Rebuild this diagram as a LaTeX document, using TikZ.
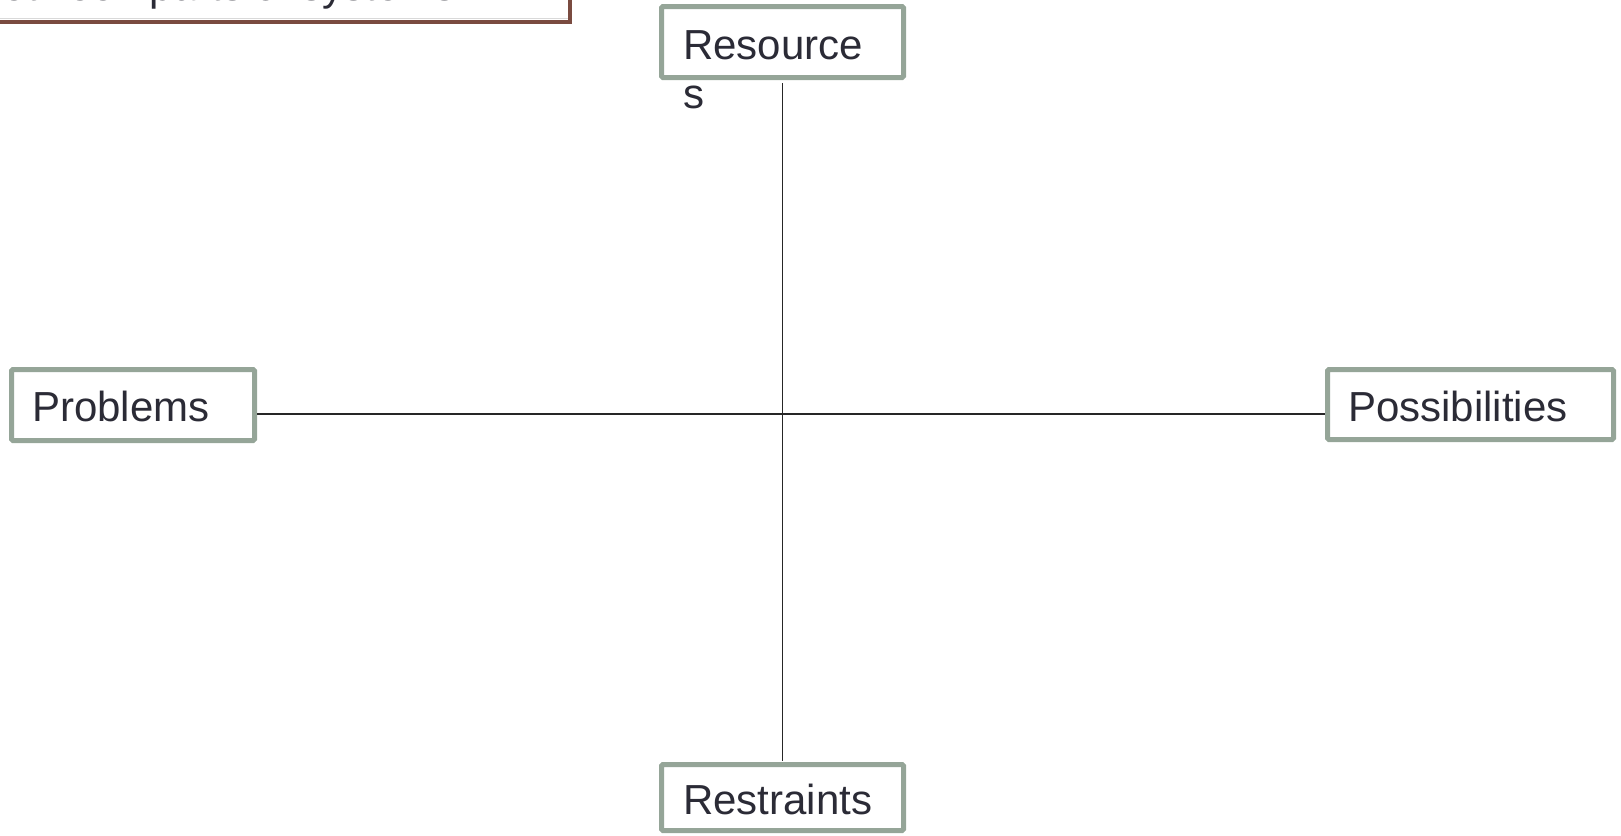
\documentclass[tikz,border=0pt]{standalone}
\usepackage{fontspec}
\setmainfont{Liberation Sans}
\definecolor{boxline}{RGB}{149,165,152}
\definecolor{txt}{RGB}{43,43,54}
\definecolor{brownline}{RGB}{122,75,64}
\begin{document}
\begin{tikzpicture}[x=1pt,y=-1pt,
  box/.style={draw=boxline,line width=5pt,fill=white,rounded corners=1.5pt,inner sep=0pt},
  lbl/.style={anchor=base west,text=txt,inner sep=0pt,font=\fontsize{42}{49}\selectfont},
  conn/.style={draw=black!85,line width=1.8pt}]
\useasboundingbox (0,0) rectangle (1621,835);
\clip (0,0) rectangle (1621,835);
% top-left cut-off box
\node[draw=brownline,line width=3.5pt,fill=white,minimum width=600pt,minimum height=80pt,inner sep=0pt] (title) at (270,-18) {};
\draw[black!15,line width=1pt] (-30,18.5) -- (568,18.5);
\node[lbl,anchor=base east] (titletext) at (456,0.5) {Relationship between parts of systems};
% boxes
\node[box,minimum width=242pt,minimum height=71pt] (res) at (782.5,42) {};
\node[box,minimum width=243pt,minimum height=71pt] (prob) at (133,405) {};
\node[box,minimum width=286pt,minimum height=70pt] (poss) at (1470.5,404.5) {};
\node[box,minimum width=242pt,minimum height=66pt] (restr) at (782.5,797.5) {};
% labels
\node[lbl] (restext) at (683,59) {Resource};
\node[lbl] (restext2) at (683,108) {s};
\node[lbl] (probtext) at (32,421) {Problems};
\node[lbl] (posstext) at (1348,421) {Possibilities};
\node[lbl] (restrtext) at (683,814) {Restraints};
% connectors
\coordinate (hl) at (257,414);
\coordinate (hr) at (1325,414);
\path[conn] (res.south |- 0,83) coordinate (vt) -- (restr.north |- 0,761) coordinate (vb);
\draw[conn] (hl) -- (hr);
\end{tikzpicture}
\end{document}
